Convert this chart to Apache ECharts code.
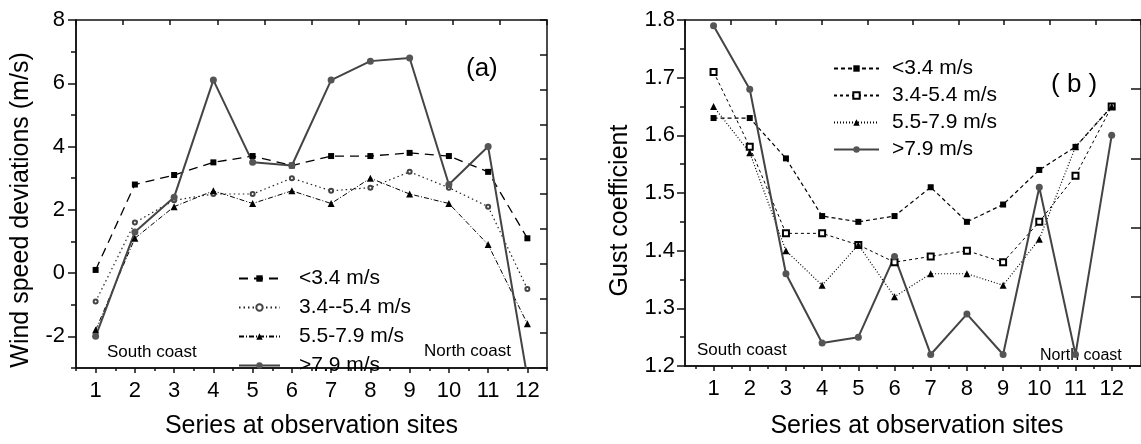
<!DOCTYPE html>
<html>
<head>
<meta charset="utf-8">
<script src="https://cdn.jsdelivr.net/npm/echarts@6/dist/echarts.min.js"></script>
<style>
html,body{margin:0;padding:0;background:#fff;}
#chart{width:1141px;height:444px;}
</style>
</head>
<body>
<div id="chart"></div>
<script>
// ---------- data ----------
const sites = [1,2,3,4,5,6,7,8,9,10,11,12];

// (a) wind speed deviations (m/s)
const devLt34   = [0.1, 2.8, 3.1, 3.5, 3.7, 3.4, 3.7, 3.7, 3.8, 3.7, 3.2, 1.1];
const dev34_54  = [-0.9, 1.6, 2.3, 2.5, 2.5, 3.0, 2.6, 2.7, 3.2, 2.7, 2.1, -0.5];
const dev55_79  = [-1.8, 1.1, 2.1, 2.6, 2.2, 2.6, 2.2, 3.0, 2.5, 2.2, 0.9, -1.6];
const devGt79   = [-2.0, 1.3, 2.4, 6.1, 3.5, 3.4, 6.1, 6.7, 6.8, 2.8, 4.0, -3.3];

// (b) gust coefficient
const gustLt34  = [1.63, 1.63, 1.56, 1.46, 1.45, 1.46, 1.51, 1.45, 1.48, 1.54, 1.58, 1.65];
const gust34_54 = [1.71, 1.58, 1.43, 1.43, 1.41, 1.38, 1.39, 1.40, 1.38, 1.45, 1.53, 1.65];
const gust55_79 = [1.65, 1.57, 1.40, 1.34, 1.41, 1.32, 1.36, 1.36, 1.34, 1.42, 1.58, 1.65];
const gustGt79  = [1.79, 1.68, 1.36, 1.24, 1.25, 1.39, 1.22, 1.29, 1.22, 1.51, 1.22, 1.60];

// tick labels
const xTicks = [1,2,3,4,5,6,7,8,9,10,11,12];
const xHalfTicks = [0.5,1.5,2.5,3.5,4.5,5.5,6.5,7.5,8.5,9.5,10.5,11.5,12.5];
const devTicks = [-2,0,2,4,6,8];
const devMinorTicks = [-3,-1,1,3,5,7];
const gustTicks = [1.2,1.3,1.4,1.5,1.6,1.7,1.8];
const gustMinorTicks = [1.25,1.35,1.45,1.55,1.65,1.75];

const namesA = ['<3.4 m/s','3.4--5.4 m/s','5.5-7.9 m/s','>7.9 m/s'];
const namesB = ['<3.4 m/s ','3.4-5.4 m/s ','5.5-7.9 m/s ','>7.9 m/s '];

// ---------- chart ----------
const FONT = 'Liberation Sans, Arial, Helvetica, sans-serif';
const AX = '#111';
const pairs = v => sites.map((s,i)=>[s, v[i]]);

const frameLine = {show:true, onZero:false, lineStyle:{color:AX, width:1.5}};

function mkX(grid, pos, min, max, opts){
  return Object.assign({
    type:'value', gridIndex:grid, position:pos, min:min, max:max,
    axisLine:frameLine, splitLine:{show:false},
    axisLabel:{show:false}, axisTick:{show:false}
  }, opts||{});
}

const chart = echarts.init(document.getElementById('chart'), null, {renderer:'canvas'});

const option = {
  animation:false,
  backgroundColor:'#fff',
  textStyle:{fontFamily:FONT},
  grid:[
    {left:76, top:20, width:471, height:350},
    {left:685, top:20, width:463, height:353}
  ],
  xAxis:[
    // grid 0
    mkX(0,'bottom',0.5,12.5,{
      axisLabel:{show:true, customValues:xTicks, fontSize:22, color:'#000', margin:12, fontFamily:FONT},
      axisTick:{show:true, customValues:xTicks, length:5, lineStyle:{color:AX,width:1.5}},
      name:'Series at observation sites', nameLocation:'middle', nameGap:46,
      nameTextStyle:{fontSize:25, color:'#000', fontFamily:FONT}
    }),
    mkX(0,'bottom',0.5,12.5,{axisTick:{show:true, customValues:xHalfTicks, length:3, lineStyle:{color:AX,width:1.5}}}),
    mkX(0,'top',0,10,{interval:1, axisTick:{show:true, inside:true, length:5, lineStyle:{color:AX,width:1.5}}}),
    // grid 1
    mkX(1,'bottom',0.211,12.81,{
      axisLabel:{show:true, customValues:xTicks, fontSize:22, color:'#000', margin:12, fontFamily:FONT},
      axisTick:{show:true, customValues:xTicks, length:5, lineStyle:{color:AX,width:1.5}},
      name:'Series at observation sites', nameLocation:'middle', nameGap:48,
      nameTextStyle:{fontSize:25, color:'#000', fontFamily:FONT, padding:[0,0,0,8]}
    }),
    mkX(1,'bottom',0.211,12.81,{axisTick:{show:true, customValues:xHalfTicks, length:3, lineStyle:{color:AX,width:1.5}}}),
    mkX(1,'top',0,10,{interval:1, axisTick:{show:true, inside:true, length:5, lineStyle:{color:AX,width:1.5}}})
  ],
  yAxis:[
    // grid 0
    mkX(0,'left',-3,8,{
      axisLabel:{show:true, customValues:devTicks, fontSize:22, color:'#000', margin:11, fontFamily:FONT},
      axisTick:{show:true, customValues:devTicks, length:8, lineStyle:{color:AX,width:1.5}},
      name:'Wind speed deviations (m/s)', nameLocation:'middle', nameGap:42, nameRotate:90,
      nameTextStyle:{fontSize:25, color:'#000', fontFamily:FONT, padding:[0,32,0,0]}
    }),
    mkX(0,'left',-3,8,{axisTick:{show:true, customValues:devMinorTicks, length:5, lineStyle:{color:AX,width:1.5}}}),
    mkX(0,'right',0,10,{interval:1, axisTick:{show:true, inside:true, length:7, lineStyle:{color:AX,width:1.5}}}),
    // grid 1
    mkX(1,'left',1.2,1.8,{
      axisLabel:{show:true, customValues:gustTicks, fontSize:22, color:'#000', margin:10, fontFamily:FONT,
                 formatter:v=>v.toFixed(1)},
      axisTick:{show:true, customValues:gustTicks, length:8, lineStyle:{color:AX,width:1.5}},
      name:'Gust coefficient', nameLocation:'middle', nameGap:52, nameRotate:90,
      nameTextStyle:{fontSize:25, color:'#000', fontFamily:FONT, padding:[0,35,0,0]}
    }),
    mkX(1,'left',1.2,1.8,{axisTick:{show:true, customValues:gustMinorTicks, length:5, lineStyle:{color:AX,width:1.5}}}),
    mkX(1,'right',0,5,{interval:1, axisTick:{show:true, inside:true, length:10, lineStyle:{color:AX,width:1.5}}})
  ],
  legend:[
    {
      data:namesA, orient:'vertical', left:233, top:263,
      itemWidth:41, itemHeight:8, itemGap:8,
      textStyle:{fontSize:21, color:'#000', fontFamily:FONT, padding:[0,0,0,14], lineHeight:21},
      selectedMode:false
    },
    {
      data:namesB, orient:'vertical', left:828, top:53,
      itemWidth:45, itemHeight:8, itemGap:6,
      textStyle:{fontSize:21, color:'#000', fontFamily:FONT, padding:[0,0,0,8], lineHeight:21},
      formatter:n=>n.trim(),
      selectedMode:false
    }
  ],
  graphic:[
    {type:'text', left:107, top:344, style:{text:'South coast', font:'17px '+FONT, fill:'#000'}},
    {type:'text', left:424, top:343, style:{text:'North coast', font:'17px '+FONT, fill:'#000'}},
    {type:'text', left:466, top:56, style:{text:'(a)', font:'26px '+FONT, fill:'#000'}},
    {type:'text', left:697, top:342, style:{text:'South coast', font:'17px '+FONT, fill:'#000'}},
    {type:'text', left:1040, top:348, style:{text:'North coast', font:'16px '+FONT, fill:'#000'}},
    {type:'text', left:1051, top:72, style:{text:'( b )', font:'26px '+FONT, fill:'#000'}}
  ],
  series:[
    // (a)
    {name:namesA[0], type:'line', xAxisIndex:0, yAxisIndex:0, data:pairs(devLt34),
     symbol:'rect', symbolSize:6, itemStyle:{color:'#000'},
     lineStyle:{color:'#000', width:1.3, type:[9,6]}},
    {name:namesA[1], type:'line', xAxisIndex:0, yAxisIndex:0, data:pairs(dev34_54),
     symbol:'emptyCircle', symbolSize:4, itemStyle:{color:'#444', borderWidth:1},
     lineStyle:{color:'#222', width:1.2, type:[1.5,3]}},
    {name:namesA[2], type:'line', xAxisIndex:0, yAxisIndex:0, data:pairs(dev55_79),
     symbol:'triangle', symbolSize:7, itemStyle:{color:'#000'},
     lineStyle:{color:'#000', width:1, type:[5,2,1,2]}},
    {name:namesA[3], type:'line', xAxisIndex:0, yAxisIndex:0, data:pairs(devGt79),
     symbol:'circle', symbolSize:7, itemStyle:{color:'#555'},
     lineStyle:{color:'#444', width:2, type:'solid'}},
    // (b)
    {name:namesB[0], type:'line', xAxisIndex:3, yAxisIndex:3, data:pairs(gustLt34),
     symbol:'rect', symbolSize:6, itemStyle:{color:'#000'},
     lineStyle:{color:'#000', width:1.2, type:[4,3]}},
    {name:namesB[1], type:'line', xAxisIndex:3, yAxisIndex:3, data:pairs(gust34_54),
     symbol:'emptyRect', symbolSize:6, itemStyle:{color:'#000', borderWidth:1},
     lineStyle:{color:'#000', width:1, type:[3,3]}},
    {name:namesB[2], type:'line', xAxisIndex:3, yAxisIndex:3, data:pairs(gust55_79),
     symbol:'triangle', symbolSize:7, itemStyle:{color:'#000'},
     lineStyle:{color:'#000', width:1.2, type:[1,2]}},
    {name:namesB[3], type:'line', xAxisIndex:3, yAxisIndex:3, data:pairs(gustGt79),
     symbol:'circle', symbolSize:7, itemStyle:{color:'#555'},
     lineStyle:{color:'#444', width:2, type:'solid'}}
  ]
};
chart.setOption(option);
</script>
</body>
</html>
